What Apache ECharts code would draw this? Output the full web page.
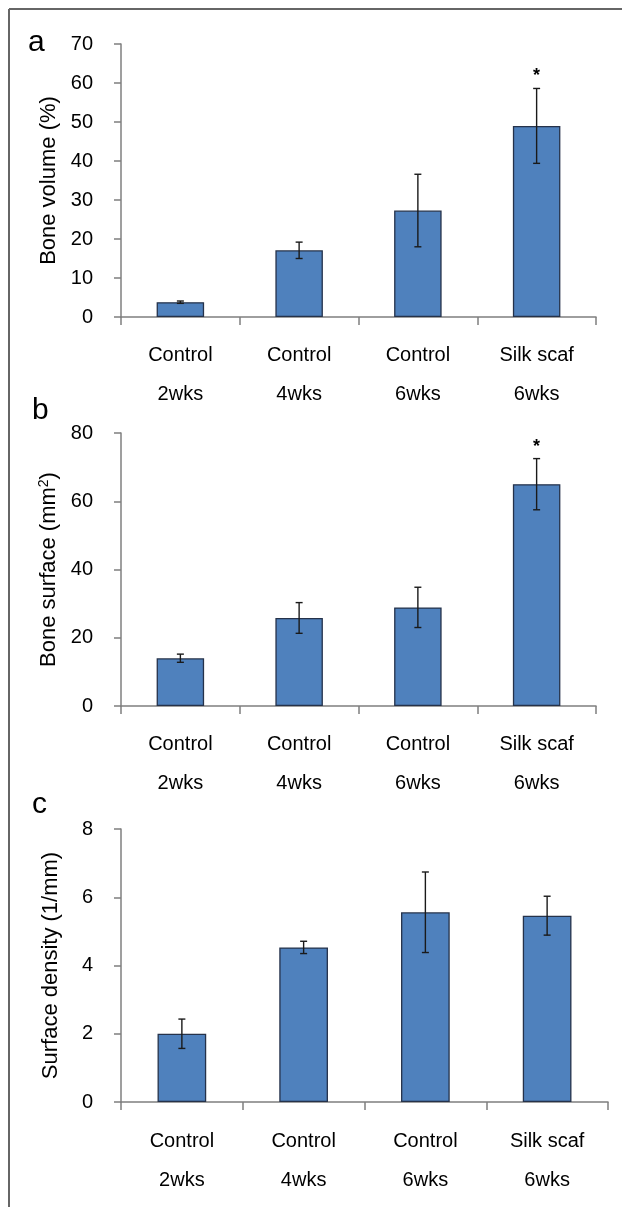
<!DOCTYPE html>
<html>
<head>
<meta charset="utf-8">
<script src="https://cdn.jsdelivr.net/npm/echarts@6/dist/echarts.min.js"></script>
<style>
html,body{margin:0;padding:0;background:#fff;}
#chart{width:622px;height:1207px;}
</style>
</head>
<body>
<div id="chart"></div>
<script>
// ---- data ----
const categories = ['Control\n2wks', 'Control\n4wks', 'Control\n6wks', 'Silk scaf\n6wks'];

const boneVolume = [3.8, 17.1, 27.3, 49.0];
const boneVolumeErr = [0.3, 2.1, 9.3, 9.6];
const boneVolumeMarks = ['', '', '', '*'];

const boneSurface = [14.0, 25.8, 28.9, 65.0];
const boneSurfaceErr = [1.2, 4.5, 5.9, 7.5];
const boneSurfaceMarks = ['', '', '', '*'];

const surfaceDensity = [2.0, 4.53, 5.56, 5.46];
const surfaceDensityErr = [0.43, 0.18, 1.18, 0.57];
const surfaceDensityMarks = ['', '', '', ''];

const panelLetters = ['a', 'b', 'c'];
const yTitles = ['Bone volume (%)', 'Bone surface (mm{sup|2})', 'Surface density (1/mm)'];
const yMax = [70, 80, 8];
const yStep = [10, 20, 2];

// ---- layout/style ----
const FONT = 'Liberation Sans, Arial, sans-serif';
const grids = [
  {left: 121, right: 26, top: 44, height: 273},
  {left: 121, right: 26, top: 433, height: 273},
  {left: 121, right: 14, top: 829, height: 273}
];
const labelMargins = [19, 19, 20];
const panels = [
  {vals: boneVolume, errs: boneVolumeErr, marks: boneVolumeMarks},
  {vals: boneSurface, errs: boneSurfaceErr, marks: boneSurfaceMarks},
  {vals: surfaceDensity, errs: surfaceDensityErr, marks: surfaceDensityMarks}
];

const axisColor = '#7f7f7f';

const xAxes = grids.map((g, i) => ({
  type: 'category', gridIndex: i, data: categories,
  axisLine: {lineStyle: {color: axisColor, width: 1.5}},
  axisTick: {show: true, length: 8, lineStyle: {color: axisColor, width: 1.5}},
  axisLabel: {fontFamily: FONT, fontSize: 20, color: '#000', lineHeight: 39, margin: labelMargins[i], interval: 0}
}));

const yAxes = grids.map((g, i) => ({
  type: 'value', gridIndex: i, min: 0, max: yMax[i], interval: yStep[i],
  splitLine: {show: false},
  axisLine: {show: true, lineStyle: {color: axisColor, width: 1.5}},
  axisTick: {show: true, length: 7, lineStyle: {color: axisColor, width: 1.5}},
  axisLabel: {fontFamily: FONT, fontSize: 20, color: '#000', margin: 28},
  name: yTitles[i], nameLocation: 'middle', nameGap: 59,
  nameTextStyle: {
    fontFamily: FONT, fontSize: 22, color: '#000',
    rich: {sup: {fontFamily: FONT, fontSize: 14, color: '#000', padding: [0, 0, 10, 0]}}
  }
}));

const series = [];
panels.forEach((p, i) => {
  series.push({
    type: 'bar', xAxisIndex: i, yAxisIndex: i, data: p.vals, barWidth: '40%',
    itemStyle: {color: '#4F81BD', borderColor: '#25324a', borderWidth: 1.3},
    silent: true
  });
  const marks = p.marks;
  series.push({
    type: 'custom', xAxisIndex: i, yAxisIndex: i,
    data: p.vals.map((v, k) => [k, v, p.errs[k]]),
    z: 10, silent: true,
    renderItem: function (params, api) {
      const k = api.value(0), v = api.value(1), e = api.value(2);
      const hi = api.coord([k, v + e]);
      const lo = api.coord([k, v - e]);
      const cap = 3.5;
      const st = {stroke: '#1a1a1a', lineWidth: 1.4};
      const children = [
        {type: 'line', shape: {x1: hi[0], y1: hi[1], x2: lo[0], y2: lo[1]}, style: st},
        {type: 'line', shape: {x1: hi[0] - cap, y1: hi[1], x2: hi[0] + cap, y2: hi[1]}, style: st},
        {type: 'line', shape: {x1: lo[0] - cap, y1: lo[1], x2: lo[0] + cap, y2: lo[1]}, style: st}
      ];
      if (marks[k]) {
        children.push({type: 'text', style: {text: marks[k], x: hi[0], y: hi[1] - 3, align: 'center', verticalAlign: 'bottom', font: 'bold 18px ' + FONT, fill: '#000'}});
      }
      return {type: 'group', children: children};
    }
  });
});

const letterPos = [[28, 28], [32, 396], [32, 790]];
const graphic = [
  {type: 'line', shape: {x1: 9, y1: 9, x2: 9, y2: 1207}, style: {stroke: '#666', lineWidth: 2}},
  {type: 'line', shape: {x1: 9, y1: 9, x2: 622, y2: 9}, style: {stroke: '#666', lineWidth: 2}}
].concat(panelLetters.map((t, i) => ({
  type: 'text', left: letterPos[i][0], top: letterPos[i][1],
  style: {text: t, font: '30px ' + FONT, fill: '#000'}
})));

const chart = echarts.init(document.getElementById('chart'), null, {renderer: 'canvas'});
chart.setOption({
  animation: false,
  backgroundColor: '#fff',
  grid: grids,
  xAxis: xAxes,
  yAxis: yAxes,
  series: series,
  graphic: graphic
});
</script>
</body>
</html>
